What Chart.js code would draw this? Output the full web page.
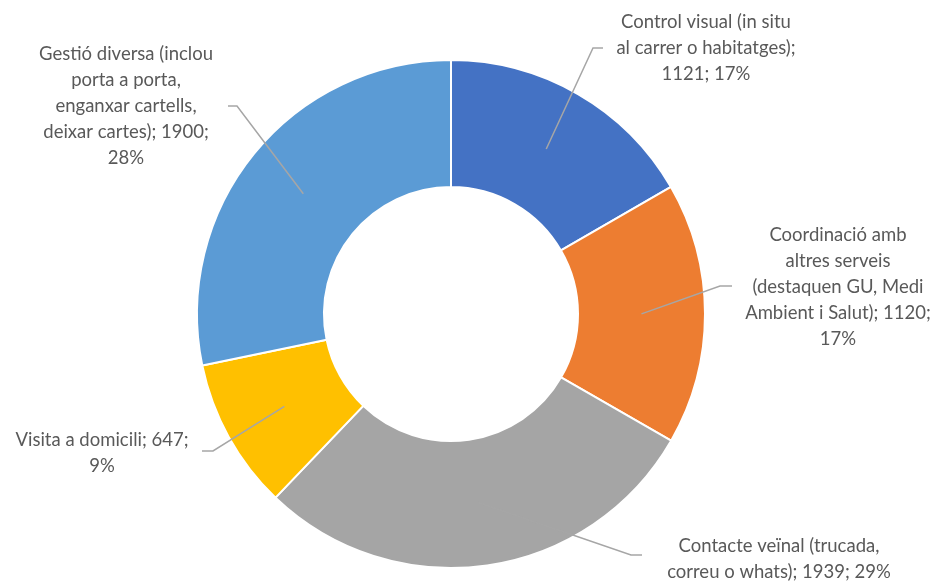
<!DOCTYPE html>
<html>
<head>
<meta charset="utf-8">
<script src="https://cdn.jsdelivr.net/npm/chart.js@4/dist/chart.umd.min.js"></script>
<style>
  html, body { margin: 0; padding: 0; background: #ffffff; }
  #wrap { width: 940px; height: 581px; }
</style>
</head>
<body>
<div id="wrap"><canvas id="c" width="940" height="581"></canvas></div>
<script>
const categories = [
  "Control visual (in situ al carrer o habitatges)",
  "Coordinació amb altres serveis (destaquen GU, Medi Ambient i Salut)",
  "Contacte veïnal (trucada, correu o whats)",
  "Visita a domicili",
  "Gestió diversa (inclou porta a porta, enganxar cartells, deixar cartes)"
];
const values = [1121, 1120, 1939, 647, 1900];
const percentLabels = ["17%", "17%", "29%", "9%", "28%"];
const labelLines = [
  ["Control visual (in situ", "al carrer o habitatges);", "1121; 17%"],
  ["Coordinació amb", "altres serveis", "(destaquen GU, Medi", "Ambient i Salut); 1120;", "17%"],
  ["Contacte veïnal (trucada,", "correu o whats); 1939; 29%"],
  ["Visita a domicili; 647;", "9%"],
  ["Gestió diversa (inclou", "porta a porta,", "enganxar cartells,", "deixar cartes); 1900;", "28%"]
];
const colors = ["#4472C4", "#ED7D31", "#A5A5A5", "#FFC000", "#5B9BD5"];

// label layout: text centre x, first line centre y, elbow point, end point of leader
const labelLayout = [
  { cx: 706, y0: 22, elbow: [593, 48], end: [603, 48] },
  { cx: 838, y0: 235, elbow: [720, 286], end: [732, 286] },
  { cx: 779, y0: 546, elbow: [631, 555], end: [642, 555] },
  { cx: 102, y0: 440, elbow: [213, 451], end: [202, 451] },
  { cx: 126, y0: 54, elbow: [237, 106], end: [228, 106] }
];
const LINE_H = 26;

const labelPlugin = {
  id: 'outLabels',
  afterDatasetsDraw(chart) {
    const ctx = chart.ctx;
    const meta = chart.getDatasetMeta(0);
    ctx.save();
    meta.data.forEach((arc, i) => {
      const p = arc.tooltipPosition();
      const L = labelLayout[i];
      ctx.strokeStyle = '#A6A6A6';
      ctx.lineWidth = 1.5;
      ctx.beginPath();
      ctx.moveTo(p.x, p.y);
      ctx.lineTo(L.elbow[0], L.elbow[1]);
      ctx.lineTo(L.end[0], L.end[1]);
      ctx.stroke();
      ctx.fillStyle = '#595959';
      ctx.font = '18.5px Lato, "Liberation Sans", sans-serif';
      ctx.textAlign = 'center';
      ctx.textBaseline = 'middle';
      labelLines[i].forEach((t, k) => {
        ctx.fillText(t, L.cx, L.y0 + k * LINE_H);
      });
    });
    ctx.restore();
  }
};

new Chart(document.getElementById('c'), {
  type: 'doughnut',
  data: {
    labels: categories,
    datasets: [{
      data: values,
      backgroundColor: colors,
      borderColor: '#ffffff',
      borderWidth: 2,
      hoverOffset: 0
    }]
  },
  options: {
    responsive: false,
    animation: false,
    cutout: '50%',
    layout: { padding: { left: 196, right: 234, top: 59, bottom: 12 } },
    plugins: {
      legend: { display: false },
      tooltip: { enabled: false }
    }
  },
  plugins: [labelPlugin]
});
</script>
</body>
</html>
